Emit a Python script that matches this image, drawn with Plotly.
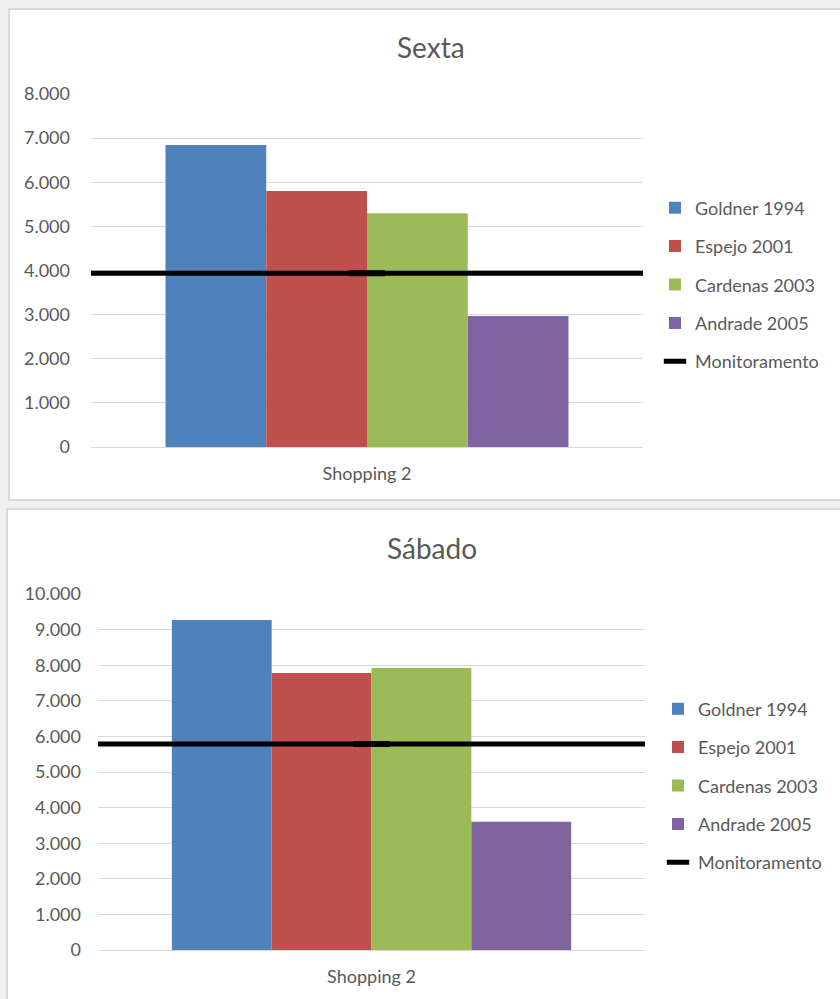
import plotly.graph_objects as go

category = ["Shopping 2"]
series_names = ["Goldner 1994", "Espejo 2001", "Cardenas 2003", "Andrade 2005"]
series_colors = ["#4F81BD", "#C0504D", "#9BBB59", "#8064A2"]

sexta_values = [6845, 5800, 5300, 2970]
sexta_monitor = 3940
sabado_values = [9270, 7780, 7920, 3600]
sabado_monitor = 5790

titles = ["Sexta", "Sábado"]
monitor_name = "Monitoramento"

W, H = 840, 999
FONT = "Lato"
TXT = "#595959"
GRID = "#d9d9d9"


def px(xp):
    return xp / W


def py(yp):
    return 1 - yp / H


fig = go.Figure()

panels = [
    dict(vals=sexta_values, mon=sexta_monitor, xa="x", ya="y", xo="x3", leg="legend"),
    dict(vals=sabado_values, mon=sabado_monitor, xa="x2", ya="y2", xo="x4", leg="legend2"),
]

for pi, p in enumerate(panels):
    for name, color, v in zip(series_names, series_colors, p["vals"]):
        fig.add_trace(go.Bar(
            x=category, y=[v], name=name, marker=dict(color=color, line=dict(width=0)),
            xaxis=p["xa"], yaxis=p["ya"], legend=p["leg"], legendgroup=f"{pi}-{name}",
            hoverinfo="skip",
        ))
    # horizontal monitoring line spanning the plot width (overlay linear axis)
    fig.add_trace(go.Scatter(
        x=[0, 1], y=[p["mon"], p["mon"]], mode="lines",
        line=dict(color="black", width=5), showlegend=False,
        xaxis=p["xo"], yaxis=p["ya"], hoverinfo="skip",
    ))
    # monitoring point marker
    fig.add_trace(go.Scatter(
        x=category, y=[p["mon"]], mode="markers", name=monitor_name,
        marker=dict(symbol="line-ew", size=26, color="black",
                    line=dict(color="black", width=6)),
        xaxis=p["xa"], yaxis=p["ya"], legend=p["leg"],
        legendgroup=f"{pi}-{monitor_name}", hoverinfo="skip",
    ))

axis_common = dict(
    showgrid=True, gridcolor=GRID, gridwidth=1, zeroline=True, zerolinecolor=GRID,
    zerolinewidth=1, showline=False, ticks="", automargin=False,
    tickfont=dict(family=FONT, size=18, color=TXT),
)

fig.update_layout(
    width=W, height=H,
    margin=dict(l=0, r=0, t=0, b=0, pad=0, autoexpand=False),
    paper_bgcolor="#f0f0f0",
    plot_bgcolor="rgba(0,0,0,0)",
    separators=",.",
    barmode="group", bargap=0.27, bargroupgap=0,
    font=dict(family=FONT, color=TXT),
    xaxis=dict(domain=[px(91), px(643)], anchor="y", type="category",
               showgrid=False, zeroline=False, showline=False, ticks="", automargin=False,
               tickfont=dict(family=FONT, size=18, color=TXT), ticklabelstandoff=14),
    xaxis2=dict(domain=[px(98), px(645)], anchor="y2", type="category",
                showgrid=False, zeroline=False, showline=False, ticks="", automargin=False,
                tickfont=dict(family=FONT, size=18, color=TXT), ticklabelstandoff=14),
    xaxis3=dict(overlaying="x", anchor="y", range=[0, 1], visible=False),
    xaxis4=dict(overlaying="x2", anchor="y2", range=[0, 1], visible=False),
    yaxis=dict(domain=[py(447), py(94)], anchor="x", range=[0, 8000], dtick=1000,
               tickformat=",d", ticklabelstandoff=20, **axis_common),
    yaxis2=dict(domain=[py(950), py(594)], anchor="x2", range=[0, 10000], dtick=1000,
                tickformat=",d", ticklabelstandoff=16, **axis_common),
    legend=dict(x=px(655), xanchor="left", y=py(284.5), yanchor="middle",
                bgcolor="rgba(0,0,0,0)", font=dict(family=FONT, size=18, color=TXT),
                tracegroupgap=12, traceorder="grouped", itemclick=False),
    legend2=dict(x=px(658), xanchor="left", y=py(785.5), yanchor="middle",
                 bgcolor="rgba(0,0,0,0)", font=dict(family=FONT, size=18, color=TXT),
                 tracegroupgap=12, traceorder="grouped", itemclick=False),
    shapes=[
        dict(type="rect", xref="paper", yref="paper", x0=px(9), x1=px(860),
             y0=py(500), y1=py(9), fillcolor="white",
             line=dict(color="#d9d9d9", width=2), layer="below"),
        dict(type="rect", xref="paper", yref="paper", x0=px(7), x1=px(860),
             y0=py(1010), y1=py(509), fillcolor="white",
             line=dict(color="#d9d9d9", width=2), layer="below"),
    ],
    annotations=[
        dict(text=titles[0], x=px(431), y=py(47), xref="paper", yref="paper",
             xanchor="center", yanchor="middle", showarrow=False,
             font=dict(family=FONT, size=28, color=TXT)),
        dict(text=titles[1], x=px(432), y=py(548), xref="paper", yref="paper",
             xanchor="center", yanchor="middle", showarrow=False,
             font=dict(family=FONT, size=28, color=TXT)),
    ],
)

fig.write_html("out.html")
